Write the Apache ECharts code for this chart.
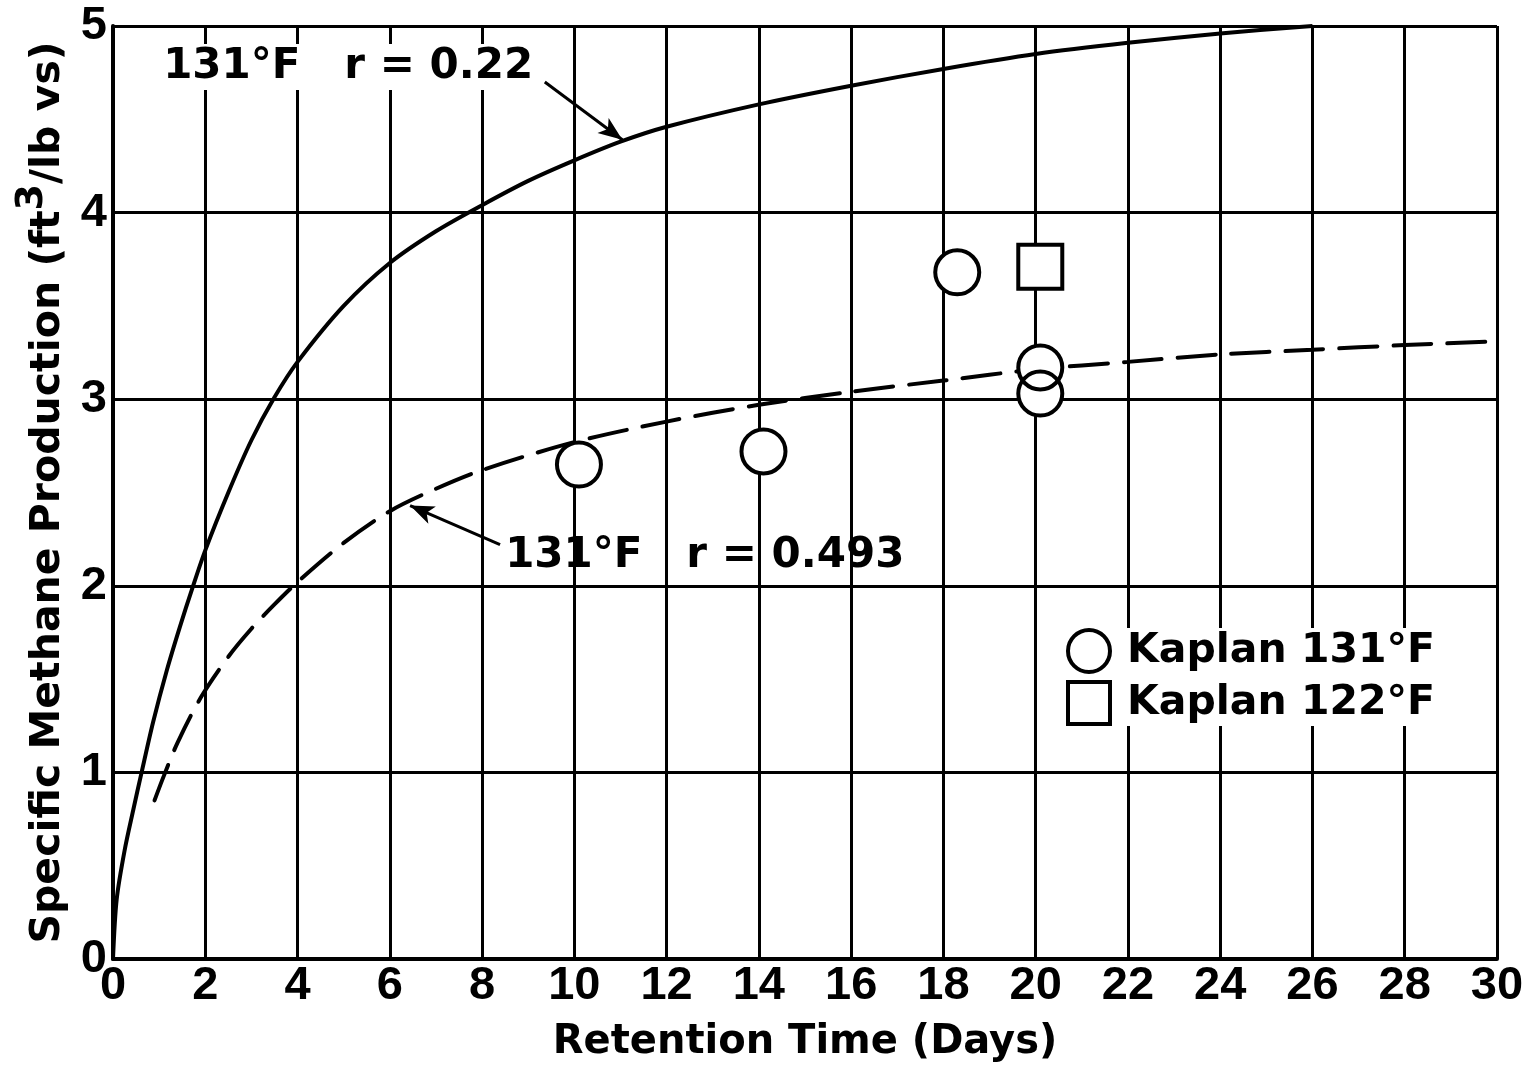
<!DOCTYPE html>
<html>
<head>
<meta charset="utf-8">
<script src="https://cdn.jsdelivr.net/npm/echarts@6/dist/echarts.min.js"></script>
<style>
html,body{margin:0;padding:0;background:#fff;}
#chart{width:1524px;height:1070px;}
</style>
</head>
<body>
<div id="chart"></div>
<script>
// Solid curve: 131°F r = 0.22
const solidX = [0, 0.08, 0.25, 0.44, 0.62, 0.87, 1.17, 1.45, 1.71, 2.0, 2.5, 3, 3.5, 4, 5, 6, 7, 8, 9, 10, 11, 12, 14, 16, 18, 20, 22, 24, 26];
const solidY = [0, 0.32, 0.58, 0.8, 1.0, 1.27, 1.55, 1.78, 1.98, 2.19, 2.5, 2.78, 3.01, 3.2, 3.5, 3.73, 3.9, 4.04, 4.17, 4.28, 4.38, 4.46, 4.58, 4.68, 4.77, 4.85, 4.91, 4.96, 5.0];
// Dashed curve: 131°F r = 0.493
const dashX = [0.9, 1.1, 1.4, 1.9, 2.5, 3, 3.5, 4, 5, 6, 7, 8, 10, 12, 14, 16, 18, 20, 22, 24, 26, 28, 30];
const dashY = [0.85, 0.98, 1.16, 1.4, 1.62, 1.77, 1.9, 2.02, 2.23, 2.4, 2.52, 2.62, 2.77, 2.88, 2.97, 3.04, 3.1, 3.16, 3.2, 3.24, 3.265, 3.29, 3.31];
// Kaplan 131°F observations
const k131X = [10.1, 14.1, 18.3, 20.1, 20.1];
const k131Y = [2.65, 2.72, 3.68, 3.17, 3.03];
// Kaplan 122°F observations
const k122X = [20.1];
const k122Y = [3.71];
const xTicks = [0, 2, 4, 6, 8, 10, 12, 14, 16, 18, 20, 22, 24, 26, 28, 30];
const yTicks = [0, 1, 2, 3, 4, 5];
const seriesNames = ['Kaplan 131°F', 'Kaplan 122°F'];

const zip = (xs, ys) => xs.map((x, i) => [x, ys[i]]);
const FONT = "'DejaVu Sans', sans-serif";
const TICKFONT = "'Liberation Sans', Arial, sans-serif";

const chart = echarts.init(document.getElementById('chart'));
chart.setOption({
  backgroundColor: '#ffffff',
  animation: false,
  grid: {left: 113, right: 27, top: 26, bottom: 111, containLabel: false, outerBoundsMode: 'none'},
  xAxis: {
    type: 'value', min: xTicks[0], max: xTicks[xTicks.length - 1], interval: 2,
    axisLine: {show: true, lineStyle: {color: '#000', width: 4}},
    axisTick: {show: false},
    splitLine: {show: true, lineStyle: {color: '#000', width: 3}},
    axisLabel: {color: '#000', fontFamily: TICKFONT, fontWeight: 'bold', fontSize: 47, margin: 4},
    name: 'Retention Time (Days)', nameLocation: 'middle', nameGap: 64,
    nameTextStyle: {color: '#000', fontFamily: FONT, fontWeight: 'bold', fontSize: 40}
  },
  yAxis: {
    type: 'value', min: yTicks[0], max: yTicks[yTicks.length - 1], interval: 1,
    axisLine: {show: true, lineStyle: {color: '#000', width: 4}},
    axisTick: {show: false},
    splitLine: {show: true, lineStyle: {color: '#000', width: 3}},
    axisLabel: {color: '#000', fontFamily: TICKFONT, fontWeight: 'bold', fontSize: 47, margin: 6},
    name: '{t|Specific Methane Production (ft}{s|3}{t|/lb vs)}',
    nameLocation: 'middle', nameGap: 44, nameRotate: 90,
    nameTextStyle: {
      color: '#000',
      rich: {
        t: {fontFamily: FONT, fontWeight: 'bold', fontSize: 41, color: '#000', lineHeight: 56, verticalAlign: 'bottom'},
        s: {fontFamily: FONT, fontWeight: 'bold', fontSize: 38, color: '#000', lineHeight: 56, verticalAlign: 'top'}
      }
    }
  },
  legend: {
    orient: 'vertical', left: 1066, top: 628, itemWidth: 42, itemHeight: 42, itemGap: 6,
    backgroundColor: '#fff', padding: [0, 4, 0, 0],
    data: [
      {name: seriesNames[0], icon: 'circle', itemStyle: {color: '#fff', borderColor: '#000', borderWidth: 4, opacity: 1}},
      {name: seriesNames[1], icon: 'rect', itemStyle: {color: '#fff', borderColor: '#000', borderWidth: 4, opacity: 1}}
    ],
    textStyle: {color: '#000', fontFamily: FONT, fontWeight: 'bold', fontSize: 41, padding: [0, 0, 0, 12]}
  },
  series: [
    {
      type: 'line', name: 'solid', data: zip(solidX, solidY), showSymbol: false, symbol: 'none',
      smooth: 0.3, lineStyle: {color: '#000', width: 4}, z: 3
    },
    {
      type: 'line', name: 'dashed', data: zip(dashX, dashY), showSymbol: false, symbol: 'none',
      smooth: 0.3, lineStyle: {color: '#000', width: 4, type: [38, 16], cap: 'round'}, z: 3
    },
    {
      type: 'scatter', name: 'fill131', data: zip(k131X, k131Y), symbol: 'circle', symbolSize: 44,
      itemStyle: {color: '#fff', borderWidth: 0, opacity: 1}, z: 4, silent: true
    },
    {
      type: 'scatter', name: 'fill122', data: zip(k122X, k122Y), symbol: 'rect', symbolSize: 44,
      itemStyle: {color: '#fff', borderWidth: 0, opacity: 1}, z: 4, silent: true
    },
    {
      type: 'scatter', name: seriesNames[0], data: zip(k131X, k131Y), symbol: 'circle', symbolSize: 44,
      itemStyle: {color: 'rgba(255,255,255,0)', borderColor: '#000', borderWidth: 4, opacity: 1}, z: 5
    },
    {
      type: 'scatter', name: seriesNames[1], data: zip(k122X, k122Y), symbol: 'rect', symbolSize: 44,
      itemStyle: {color: 'rgba(255,255,255,0)', borderColor: '#000', borderWidth: 4, opacity: 1}, z: 5,
      markLine: {
        silent: true, symbol: ['none', 'arrow'], symbolSize: [14, 24], label: {show: false},
        lineStyle: {color: '#000', width: 3, type: 'solid', opacity: 1},
        data: [
          [{coord: [9.36, 4.70]}, {coord: [11.04, 4.39]}],
          [{coord: [8.39, 2.22]}, {coord: [6.44, 2.43]}]
        ]
      },
      markPoint: {
        silent: true, symbol: 'circle', symbolSize: 0,
        data: [
          {coord: [1.0, 4.78], label: {show: true, position: 'right', distance: 0, formatter: '131°F   r = 0.22',
            color: '#000', fontFamily: FONT, fontWeight: 'bold', fontSize: 42, backgroundColor: '#fff', padding: [2, 4]}},
          {coord: [8.5, 2.16], label: {show: true, position: 'right', distance: 0, formatter: '131°F   r = 0.493',
            color: '#000', fontFamily: FONT, fontWeight: 'bold', fontSize: 42}}
        ]
      }
    }
  ]
});
</script>
</body>
</html>
